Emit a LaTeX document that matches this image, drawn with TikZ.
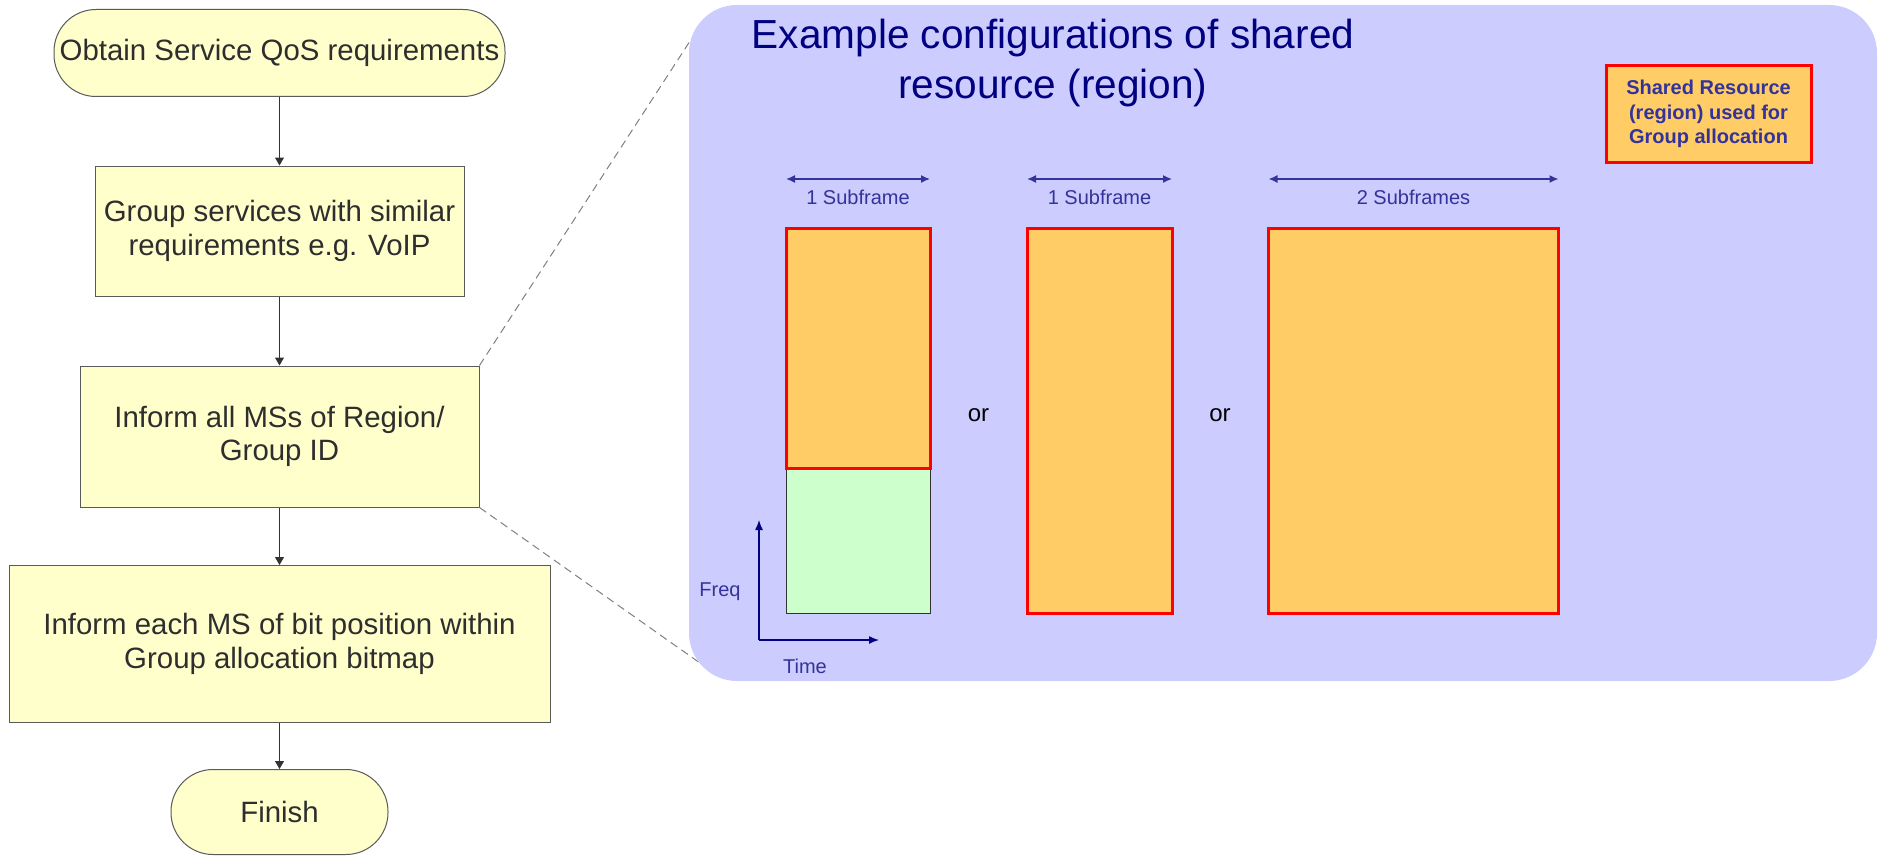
\documentclass[tikz,border=0pt]{standalone}
\usepackage{fontspec}
\setmainfont{Liberation Sans}
\usepackage{xcolor}
\usepackage{tikz}
\usetikzlibrary{arrows.meta}
\definecolor{flowfill}{HTML}{FFFFCC}
\definecolor{flowline}{HTML}{5A5A5A}
\definecolor{panelfill}{HTML}{CCCCFF}
\definecolor{resfill}{HTML}{FFCC66}
\definecolor{freefill}{HTML}{CCFFCC}
\definecolor{darknavy}{HTML}{000080}
\definecolor{slateblue}{HTML}{333399}
\tikzset{
    flownode/.style = {align=center, inner sep=0pt, text centered, fill=flowfill, draw=flowline, line width=1pt, text=black!82, font=\fontsize{29.4}{33.5}\selectfont},
    term_node/.style = {flownode, rectangle, rounded corners=42pt},
    step_node/.style = {flownode, rectangle},
    flow_arrow/.style = {->, draw=black!80, line width=1pt},
    zoom_line/.style = {draw=black!50, line width=1pt, dash pattern=on 8pt off 5pt}
}
\tikzset{
    panel_node/.style = {rectangle, fill=panelfill, rounded corners=48pt, inner sep=0pt},
    title_node/.style = {align=center, inner sep=0pt, text=darknavy, font=\fontsize{40.6}{50}\selectfont},
    legend_node/.style = {align=center, inner sep=0pt, fill=resfill, draw=red, line width=3pt, text=slateblue, font=\fontsize{20}{24.5}\selectfont\bfseries},
    res_node/.style = {rectangle, inner sep=0pt, outer sep=0pt, fill=resfill, draw=red, line width=3pt},
    free_node/.style = {rectangle, inner sep=0pt, outer sep=0pt, fill=freefill, draw=black!80, line width=1pt},
    span_arrow/.style = {{Latex[length=9pt,width=8pt]}-{Latex[length=9pt,width=8pt]}, draw=slateblue, line width=1.5pt},
    span_label/.style = {below=10pt, inner sep=0pt, text=slateblue, font=\fontsize{20}{24}\selectfont},
    or_node/.style = {inner sep=0pt, text=black, font=\fontsize{24}{28}\selectfont},
    axis_arrow/.style = {-{Latex[length=10pt,width=8pt]}, draw=darknavy, line width=1.3pt},
    axis_label/.style = {inner sep=0pt, text=slateblue, font=\fontsize{20}{24}\selectfont}
}

\begin{document}
\begin{tikzpicture}[x=1pt, y=-1pt, >={Triangle[length=8pt,width=9pt]}]
    \useasboundingbox (0,0) rectangle (1879,856);
    % flow chart
    \node [term_node, minimum width=451pt, minimum height=87pt] (start) at (279.5,53) {Obtain Service QoS requirements};
    \node [step_node, minimum width=369pt, minimum height=130pt] (group) at (279.5,231) {Group services with similar\\requirements e.g. VoIP};
    \node [step_node, minimum width=399pt, minimum height=141pt] (inform) at (279.5,436.5) {Inform all MSs of Region/\\Group ID};
    \node [step_node, minimum width=541pt, minimum height=157pt] (bitpos) at (279.5,644) {Inform each MS of bit position within\\Group allocation bitmap};
    \node [term_node, minimum width=217pt, minimum height=85pt] (finish) at (279.5,812) {Finish};
    \draw [flow_arrow] (start) -- (group);
    \draw [flow_arrow] (group) -- (inform);
    \draw [flow_arrow] (inform) -- (bitpos);
    \draw [flow_arrow] (bitpos) -- (finish);

    % zoom lines
    \coordinate (zoom_top) at (692,38);
    \coordinate (zoom_bot) at (700,663);
    \draw [zoom_line] (inform.north east) -- (zoom_top);
    \draw [zoom_line] (inform.south east) -- (zoom_bot);

    % example panel
    \node [panel_node, minimum width=1188pt, minimum height=676pt] (panel) at (1283,343) {};
    \node [title_node] (title) at (1053,63) {Example configurations of shared\\resource (region)};
    \node [legend_node, minimum width=205pt, minimum height=96pt] (legend) at (1708.5,114) {Shared Resource\\(region) used for\\Group allocation};

    \node [free_node, minimum width=144pt, minimum height=145pt] (free1) at (858,540.5) {};
    \node [res_node, minimum width=144pt, minimum height=240pt] (res1) at (858,348) {};
    \node [res_node, minimum width=145pt, minimum height=385pt] (res2) at (1099.5,420.5) {};
    \node [res_node, minimum width=290pt, minimum height=385pt] (res3) at (1413.5,420.5) {};

    \foreach \r/\txt in {res1/1 Subframe, res2/1 Subframe, res3/2 Subframes}
        \draw [span_arrow] ([yshift=49pt]\r.north west) -- node [span_label] {\txt} ([yshift=49pt]\r.north east);

    \node [or_node] (or1) at (978.5,415) {or};
    \node [or_node] (or2) at (1220,415) {or};

    % axes
    \coordinate (axis_o) at (759,640);
    \coordinate (axis_f) at (759,520);
    \coordinate (axis_t) at (879,640);
    \draw [axis_arrow] (axis_o) -- (axis_f);
    \draw [axis_arrow] (axis_o) -- (axis_t);
    \node [axis_label] (freq) at (720,592) {Freq};
    \node [axis_label] (time) at (805,666) {Time};
\end{tikzpicture}
\end{document}
